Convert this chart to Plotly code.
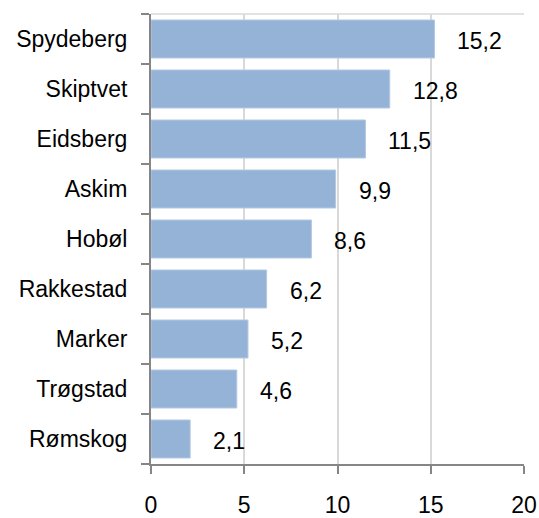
import plotly.graph_objects as go

categories = ["Spydeberg", "Skiptvet", "Eidsberg", "Askim", "Hobøl",
              "Rakkestad", "Marker", "Trøgstad", "Rømskog"]
values = [15.2, 12.8, 11.5, 9.9, 8.6, 6.2, 5.2, 4.6, 2.1]
value_labels = [f"{v:.1f}".replace(".", ",") for v in values]
x_ticks = [0, 5, 10, 15, 20]

cats_r = categories[::-1]
vals_r = values[::-1]
labs_r = value_labels[::-1]

FONT = "Liberation Sans"
FS = 23

fig = go.Figure()
fig.add_trace(go.Bar(
    y=cats_r, x=vals_r, orientation="h",
    marker=dict(color="#95B3D7", line=dict(color="#B3C8E3", width=1)),
    width=0.76, hoverinfo="skip",
))

for c, v, t in zip(cats_r, vals_r, labs_r):
    fig.add_annotation(x=v, y=c, text=t, showarrow=False, xanchor="left",
                       xshift=21, yshift=-2,
                       font=dict(family=FONT, size=FS, color="black"))

fig.update_layout(
    width=539, height=518,
    margin=dict(l=151, r=15, t=14, b=54),
    paper_bgcolor="white", plot_bgcolor="white",
    showlegend=False,
    font=dict(family=FONT, size=FS, color="black"),
    bargap=0.24,
)
fig.update_xaxes(
    range=[0, 20], tickvals=x_ticks, ticktext=[str(t) for t in x_ticks],
    showgrid=True, gridcolor="#D9D9D9", gridwidth=1.5,
    showline=True, linecolor="#868686", linewidth=2,
    ticks="outside", ticklen=8, tickcolor="#868686", tickwidth=2,
    ticklabelstandoff=11, zeroline=False, fixedrange=True, automargin=False,
)
fig.update_yaxes(
    showgrid=False, showline=True, linecolor="#868686", linewidth=2,
    ticks="outside", ticklen=8, tickcolor="#868686", tickwidth=2,
    tickson="boundaries", ticklabelstandoff=17, fixedrange=True, automargin=False,
)
fig.add_shape(type="line", xref="paper", yref="paper", x0=0, x1=1, y0=1, y1=1,
              line=dict(color="#D9D9D9", width=1.5))

fig.write_html("out.html", config={"displayModeBar": False},
               post_script="document.body.style.margin='0';document.body.style.padding='0';")
